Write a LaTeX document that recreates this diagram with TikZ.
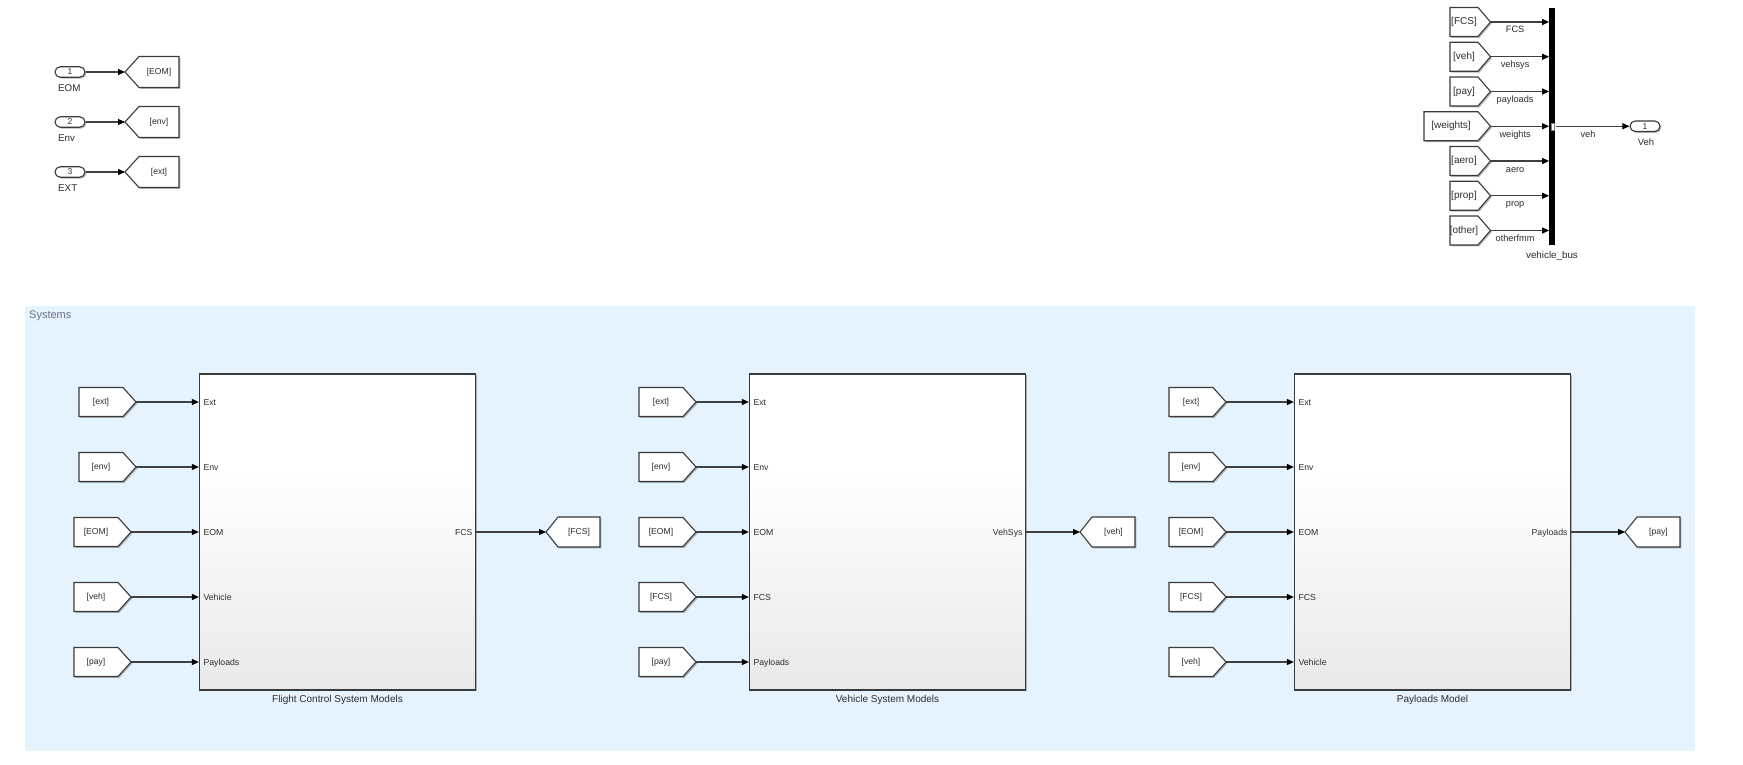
\documentclass[tikz,border=0pt]{standalone}
\usepackage{fontspec}
\setmainfont{Liberation Sans}
\usetikzlibrary{arrows.meta,shadows,calc}
\definecolor{areablue}{RGB}{228,243,254}
\definecolor{lineg}{RGB}{64,64,64}
\definecolor{edgeg}{RGB}{58,58,58}
\definecolor{txtg}{RGB}{45,45,45}
\definecolor{sysg}{RGB}{105,115,125}
\pgfdeclareverticalshading{blockshade}{100bp}{color(0bp)=(black!15); color(60bp)=(white); color(100bp)=(white)}
\tikzset{
  shad/.style={drop shadow={shadow xshift=1.4pt, shadow yshift=-1.4pt, opacity=0.4, fill=black!70}},
  sig/.style={draw=lineg, line width=1.1pt, -{Triangle[length=7pt,width=6pt,color=black]}},
  tagshape/.style={draw=edgeg, line width=1.1pt, fill=white, shad},
  tagtext/.style={inner sep=0pt, text=txtg, font=\fontsize{8.6}{10}\selectfont},
  bustagtext/.style={inner sep=0pt, text=txtg, font=\fontsize{10}{12}\selectfont},
  simblock/.style={draw=edgeg, line width=1.3pt, shading=blockshade, minimum width=276pt, minimum height=316pt, inner sep=0pt, shad},
  portlab/.style={inner sep=0pt, text=txtg, font=\fontsize{8.7}{10}\selectfont, text height=6.2pt, text depth=0pt},
  caption/.style={inner sep=0pt, text=txtg, font=\fontsize{10}{12}\selectfont, anchor=base},
  inport/.style={draw=edgeg, line width=1.1pt, fill=white, rounded corners=5.25pt, minimum width=30pt, minimum height=10.5pt, inner sep=0pt, text=txtg, font=\fontsize{8.5}{9}\selectfont, shad},
  inlab/.style={inner sep=0pt, text=txtg, font=\fontsize{9.8}{11}\selectfont},
  buslab/.style={inner sep=0pt, text=txtg, font=\fontsize{9.2}{11}\selectfont, anchor=base},
}
% right-pointing tag: name, xleft, yc, body, point, halfh, text
\newcommand\SimFromTag[7]{%
  \draw[tagshape] (#2,#3-#6) -- (#2+#4,#3-#6) -- (#2+#4+#5,#3) -- (#2+#4,#3+#6) -- (#2,#3+#6) -- cycle;
  \node[tagtext] (#1) at (#2+#4/2,#3) {#7};
  \coordinate (#1-p) at (#2+#4+#5,#3);
}
% left-pointing tag: name, xtip, yc, point, body, halfh, text
\newcommand\SimGotoTag[7]{%
  \draw[tagshape] (#2,#3) -- (#2+#4,#3-#6) -- (#2+#4+#5,#3-#6) -- (#2+#4+#5,#3+#6) -- (#2+#4,#3+#6) -- cycle;
  \node[tagtext] (#1) at (#2+#4+#5/2,#3) {#7};
  \coordinate (#1-p) at (#2,#3);
}
\begin{document}
\begin{tikzpicture}[x=1pt,y=-1pt]
\useasboundingbox (0,0) rectangle (1743,765);
\fill[white] (0,0) rectangle (1743,765);

% ---------- top-left inports ----------
\node[inport] (inA) at (70,72) {1};
\node[inport] (inB) at (70,122) {2};
\node[inport] (inC) at (70,172) {3};
\node[inlab, anchor=west] (inAl) at (58,88.5) {EOM};
\node[inlab, anchor=west] (inBl) at (58,138.5) {Env};
\node[inlab, anchor=west] (inCl) at (58,188.5) {EXT};
\SimGotoTag{gA}{125}{72}{14}{40}{15.5}{[EOM]}
\SimGotoTag{gB}{125}{122}{14}{40}{15.5}{[env]}
\SimGotoTag{gC}{125}{172}{14}{40}{15.5}{[ext]}
\draw[sig] (inA.east) -- (gA-p);
\draw[sig] (inB.east) -- (gB-p);
\draw[sig] (inC.east) -- (gC-p);

% ---------- bus creator ----------
\node[fill=black, minimum width=6pt, minimum height=236.7pt, inner sep=0pt] (bus) at (1552.3,126.6) {};
\renewcommand\SimFromTag[7]{%
  \draw[tagshape] (#2,#3-#6) -- (#2+#4,#3-#6) -- (#2+#4+#5,#3) -- (#2+#4,#3+#6) -- (#2,#3+#6) -- cycle;
  \node[bustagtext] (#1) at (#2+#4/2,#3) {#7};
  \coordinate (#1-p) at (#2+#4+#5,#3);
}
\SimFromTag{tA}{1450}{22}{28}{12.5}{14.5}{[FCS]}
\SimFromTag{tB}{1450}{56.75}{28}{12.5}{14.5}{[veh]}
\SimFromTag{tC}{1450}{91.5}{28}{12.5}{14.5}{[pay]}
\SimFromTag{tD}{1424}{126.25}{54}{12.5}{14.5}{[weights]}
\SimFromTag{tE}{1450}{161}{28}{12.5}{14.5}{[aero]}
\SimFromTag{tF}{1450}{195.75}{28}{12.5}{14.5}{[prop]}
\SimFromTag{tG}{1450}{230.5}{28}{12.5}{14.5}{[other]}
\draw[sig] (tA-p) -- (tA-p -| bus.west) node[buslab, pos=0.42, yshift=-11pt] (lA) {FCS};
\draw[sig] (tB-p) -- (tB-p -| bus.west) node[buslab, pos=0.42, yshift=-11pt] (lB) {vehsys};
\draw[sig] (tC-p) -- (tC-p -| bus.west) node[buslab, pos=0.42, yshift=-11pt] (lC) {payloads};
\draw[sig] (tD-p) -- (tD-p -| bus.west) node[buslab, pos=0.42, yshift=-11pt] (lD) {weights};
\draw[sig] (tE-p) -- (tE-p -| bus.west) node[buslab, pos=0.42, yshift=-11pt] (lE) {aero};
\draw[sig] (tF-p) -- (tF-p -| bus.west) node[buslab, pos=0.42, yshift=-11pt] (lF) {prop};
\draw[sig] (tG-p) -- (tG-p -| bus.west) node[buslab, pos=0.42, yshift=-11pt] (lG) {otherfmm};
\node[fill=white, draw=black!50, line width=0.5pt, minimum width=3.2pt, minimum height=7pt, inner sep=0pt] (bmark) at (1552.6,126.3) {};
\node[inport] (outV) at (1645,126.25) {1};
\draw[sig] (bus.east |- tD-p) -- (outV.west) node[buslab, pos=0.44, yshift=-11.5pt] (lveh) {veh};
\node[buslab, font=\fontsize{9.4}{11}\selectfont] (outVl) at (1646,145.5) {Veh};
\node[buslab, font=\fontsize{9.8}{11}\selectfont] (busl) at (1552,258) {vehicle\_bus};

% ---------- Systems area ----------
\renewcommand\SimFromTag[7]{%
  \draw[tagshape] (#2,#3-#6) -- (#2+#4,#3-#6) -- (#2+#4+#5,#3) -- (#2+#4,#3+#6) -- (#2,#3+#6) -- cycle;
  \node[tagtext] (#1) at (#2+#4/2,#3) {#7};
  \coordinate (#1-p) at (#2+#4+#5,#3);
}
\node[fill=areablue, inner sep=0pt, minimum width=1670pt, minimum height=445pt, anchor=north west] (sysarea) at (25,306) {};
\node[anchor=base west, inner sep=0pt, text=sysg, font=\fontsize{11}{13}\selectfont] (syslab) at (29,318.3) {Systems};

\node[simblock] (b1) at (337.5,532) {};
\node[simblock] (b2) at (887.5,532) {};
\node[simblock] (b3) at (1432.5,532) {};

% block 1
\SimFromTag{f1a}{79}{402}{44}{13}{14.5}{[ext]}
\SimFromTag{f1b}{79}{467}{44}{13}{14.5}{[env]}
\SimFromTag{f1c}{74}{532}{44}{13}{14.5}{[EOM]}
\SimFromTag{f1d}{74}{597}{44}{13}{14.5}{[veh]}
\SimFromTag{f1e}{74}{662}{44}{13}{14.5}{[pay]}
\foreach \t in {f1a,f1b,f1c,f1d,f1e} {\draw[sig] (\t-p) -- (\t-p -| b1.west);}
\node[portlab, anchor=west] (b1i1) at ($(b1.west)+(4.5,-130)$) {Ext};
\node[portlab, anchor=west] (b1i2) at ($(b1.west)+(4.5,-65)$) {Env};
\node[portlab, anchor=west] (b1i3) at ($(b1.west)+(4.5,0)$) {EOM};
\node[portlab, anchor=west] (b1i4) at ($(b1.west)+(4.5,65)$) {Vehicle};
\node[portlab, anchor=west] (b1i5) at ($(b1.west)+(4.5,130)$) {Payloads};
\node[portlab, anchor=east] (b1o) at ($(b1.east)+(-3.5,0)$) {FCS};
\SimGotoTag{g1}{546}{532}{12}{42}{15}{[FCS]}
\draw[sig] (b1.east) -- (g1-p);
\node[caption] (c1) at ($(b1.south)+(0,12)$) {Flight Control System Models};

% block 2
\SimFromTag{f2a}{639}{402}{44}{13}{14.5}{[ext]}
\SimFromTag{f2b}{639}{467}{44}{13}{14.5}{[env]}
\SimFromTag{f2c}{639}{532}{44}{13}{14.5}{[EOM]}
\SimFromTag{f2d}{639}{597}{44}{13}{14.5}{[FCS]}
\SimFromTag{f2e}{639}{662}{44}{13}{14.5}{[pay]}
\foreach \t in {f2a,f2b,f2c,f2d,f2e} {\draw[sig] (\t-p) -- (\t-p -| b2.west);}
\node[portlab, anchor=west] (b2i1) at ($(b2.west)+(4.5,-130)$) {Ext};
\node[portlab, anchor=west] (b2i2) at ($(b2.west)+(4.5,-65)$) {Env};
\node[portlab, anchor=west] (b2i3) at ($(b2.west)+(4.5,0)$) {EOM};
\node[portlab, anchor=west] (b2i4) at ($(b2.west)+(4.5,65)$) {FCS};
\node[portlab, anchor=west] (b2i5) at ($(b2.west)+(4.5,130)$) {Payloads};
\node[portlab, anchor=east] (b2o) at ($(b2.east)+(-3.5,0)$) {VehSys};
\SimGotoTag{g2}{1080}{532}{12}{43}{15}{[veh]}
\draw[sig] (b2.east) -- (g2-p);
\node[caption] (c2) at ($(b2.south)+(0,12)$) {Vehicle System Models};

% block 3
\SimFromTag{f3a}{1169}{402}{44}{13}{14.5}{[ext]}
\SimFromTag{f3b}{1169}{467}{44}{13}{14.5}{[env]}
\SimFromTag{f3c}{1169}{532}{44}{13}{14.5}{[EOM]}
\SimFromTag{f3d}{1169}{597}{44}{13}{14.5}{[FCS]}
\SimFromTag{f3e}{1169}{662}{44}{13}{14.5}{[veh]}
\foreach \t in {f3a,f3b,f3c,f3d,f3e} {\draw[sig] (\t-p) -- (\t-p -| b3.west);}
\node[portlab, anchor=west] (b3i1) at ($(b3.west)+(4.5,-130)$) {Ext};
\node[portlab, anchor=west] (b3i2) at ($(b3.west)+(4.5,-65)$) {Env};
\node[portlab, anchor=west] (b3i3) at ($(b3.west)+(4.5,0)$) {EOM};
\node[portlab, anchor=west] (b3i4) at ($(b3.west)+(4.5,65)$) {FCS};
\node[portlab, anchor=west] (b3i5) at ($(b3.west)+(4.5,130)$) {Vehicle};
\node[portlab, anchor=east] (b3o) at ($(b3.east)+(-3.5,0)$) {Payloads};
\SimGotoTag{g3}{1625}{532}{12}{43}{15}{[pay]}
\draw[sig] (b3.east) -- (g3-p);
\node[caption] (c3) at ($(b3.south)+(0,12)$) {Payloads Model};
\end{tikzpicture}
\end{document}
